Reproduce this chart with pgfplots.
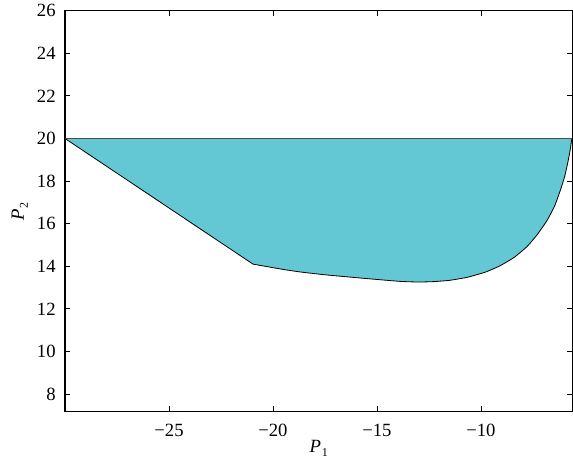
\documentclass[border=0pt]{standalone}
\usepackage{fontspec}
\setmainfont{Liberation Serif}
\usepackage{pgfplots}
\pgfplotsset{compat=1.18}
\definecolor{fillc}{RGB}{100,200,212}
\begin{document}
\begin{tikzpicture}[x=1pt,y=1pt]
\begin{axis}[
  scale only axis,
  width=380.6pt, height=300.75pt,
  xmin=-30, xmax=-5.6, ymin=7.17, ymax=26,
  xtick={-25,-20,-15,-10},
  xticklabels={\textrm{−25},\textrm{−20},\textrm{−15},\textrm{−10}},
  ytick={8,10,...,26},
  yticklabels={\textrm{8},\textrm{10},\textrm{12},\textrm{14},\textrm{16},\textrm{18},\textrm{20},\textrm{22},\textrm{24},\textrm{26}},
  /pgf/number format/assume math mode=true,
  tick align=inside,
  major tick length=4pt,
  tick style={black, line width=0.6pt},
  axis line style={black, line width=0.8pt},
  tick label style={font=\fontsize{14}{15}\selectfont\rmfamily},
  xticklabel style={yshift=-5.5pt},
  yticklabel style={xshift=-3.5pt},
  xlabel={\textit{P}\kern0.5pt\raisebox{-0.45ex}{\fontsize{9}{10}\selectfont 1}},
  ylabel={\textit{P}\kern0.5pt\raisebox{-0.45ex}{\fontsize{9}{10}\selectfont 2}},
  label style={font=\fontsize{14}{15}\selectfont},
  xlabel style={yshift=4pt},
  ylabel style={yshift=0pt},
  clip=true,
]
\addplot[fill=fillc, draw=black, line width=0.6pt, smooth, tension=0.3] coordinates {
(-20.96,14.1)
(-19.5,13.85)
(-18.67,13.73)
(-17.5,13.6)
(-16.28,13.49)
(-15,13.38)
(-13.88,13.29)
(-13,13.26)
(-12.27,13.28)
(-11.5,13.34)
(-10.67,13.48)
(-9.8,13.72)
(-9.07,14.03)
(-8.4,14.42)
(-7.79,14.92)
(-7.3,15.48)
(-6.83,16.14)
(-6.45,16.85)
(-6.19,17.55)
(-5.98,18.2)
(-5.84,18.8)
(-5.72,19.4)
(-5.63,20)
} -- (axis cs:-30,20) -- cycle;
\addplot[draw=black!70, line width=0.8pt] coordinates {(-30,20) (-5.6,20)};
\end{axis}
\useasboundingbox ([xshift=-48.75pt,yshift=-41.25pt]current axis.south west) rectangle ([xshift=0.4pt,yshift=7.5pt]current axis.north east);
\end{tikzpicture}
\end{document}
